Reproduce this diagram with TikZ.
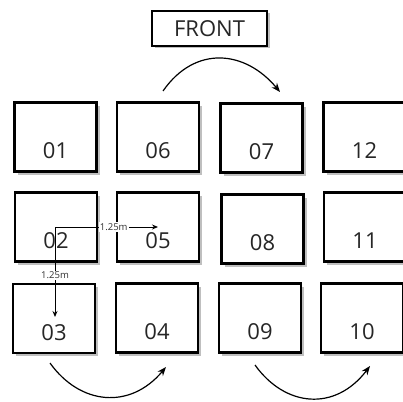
\documentclass[tikz,border=0pt]{standalone}
\usepackage{fontspec}
\setmainfont{Open Sans}
\usetikzlibrary{shadows,arrows.meta}
\begin{document}
\begin{tikzpicture}[x=1pt,y=-1pt,
  seat/.style={draw=black,line width=2.5pt,fill=white,minimum width=82pt,minimum height=69pt,inner sep=0pt,
    drop shadow={shadow xshift=3pt,shadow yshift=-3pt,fill=black!25,opacity=1}},
  num/.style={font=\fontsize{22}{24}\selectfont,text=black!85},
  turn/.style={line width=1.2pt,-{Stealth[length=9pt,width=7pt]}},
  dim/.style={line width=0.9pt,-{Stealth[length=6pt,width=5pt]}},
  dimlab/.style={font=\fontsize{9.5}{10}\selectfont,fill=white,inner sep=1pt,text=black!80}]
\useasboundingbox (0,0) rectangle (403,401);
\node[draw=black,line width=2pt,fill=white,minimum width=115pt,minimum height=35pt,inner sep=0pt,
  drop shadow={shadow xshift=2.5pt,shadow yshift=-2.5pt,fill=black!25,opacity=1},
  font=\fontsize{22}{24}\selectfont,text=black!85] (front) at (209.5,28.5) {FRONT};
% row 1
\node[seat,label={[num,yshift=-14pt]center:01}] (b01) at (55.5,137) {};
\node[seat,label={[num,yshift=-14pt]center:06}] (b06) at (158,137) {};
\node[seat,label={[num,yshift=-14pt]center:07}] (b07) at (261.5,138) {};
\node[seat,label={[num,yshift=-14pt]center:12}] (b12) at (364.5,137) {};
% row 2
\node[seat,label={[num,yshift=-14pt]center:02}] (b02) at (56,227) {};
\node[seat,label={[num,yshift=-14pt]center:05}] (b05) at (158,227) {};
\node[seat,label={[num,yshift=-14pt]center:08}] (b08) at (262.5,229) {};
\node[seat,label={[num,yshift=-14pt]center:11}] (b11) at (365,227) {};
% row 3
\node[seat,label={[num,yshift=-14pt]center:03}] (b03) at (54,318.5) {};
\node[seat,label={[num,yshift=-14pt]center:04}] (b04) at (157,318) {};
\node[seat,label={[num,yshift=-14pt]center:09}] (b09) at (260,318) {};
\node[seat,label={[num,yshift=-14pt]center:10}] (b10) at (362,318) {};
% turn arrows
\coordinate (t1) at (163,91);
\coordinate (t2) at (280,92);
\draw[turn] (t1) .. controls (195,45) and (245,50) .. (t2);
\coordinate (l1) at (50,363);
\coordinate (l2) at (166,367);
\draw[turn] (l1) .. controls (80,405) and (130,410) .. (l2);
\coordinate (r1) at (255,365);
\coordinate (r2) at (370,366);
\draw[turn] (r1) .. controls (285,407) and (335,412) .. (r2);
% dimensions
\coordinate (d0) at (55,227);
\coordinate (dh) at (158,227);
\coordinate (dv) at (55,317);
\draw[dim] (d0) -- node[dimlab,pos=0.57] (lh) {1.25m} (dh);
\draw[dim] (d0) -- node[dimlab,pos=0.54] (lv) {1.25m} (dv);
\end{tikzpicture}
\end{document}
